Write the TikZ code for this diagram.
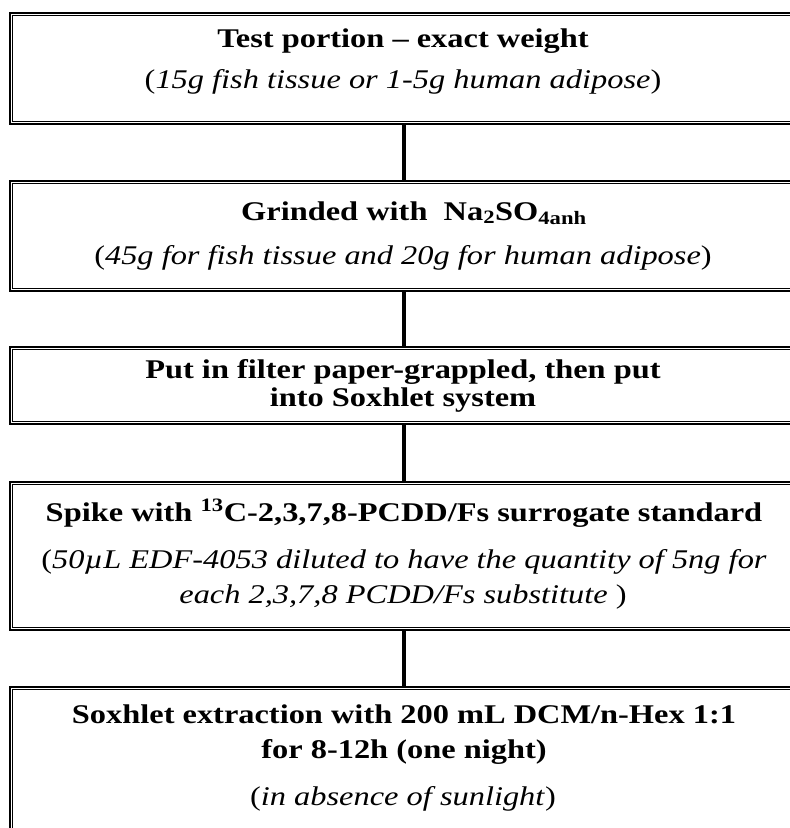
\documentclass[tikz,border=0pt]{standalone}
\usepackage{fontspec}
\setmainfont[FakeStretch=1.2]{Liberation Serif}
\begin{document}
\begin{tikzpicture}[x=1pt,y=-1pt,
  box/.style={draw, line width=2.5pt, rectangle, minimum width=788pt, inner sep=0pt},
  inner/.style={line width=1.1pt},
  conn/.style={line width=4.5pt},
  bt/.style={anchor=base, inner sep=0pt, font=\fontsize{27}{30}\selectfont\bfseries},
  it/.style={anchor=base, inner sep=0pt, font=\fontsize{27}{30}\selectfont}
]
\useasboundingbox (0,0) rectangle (790,828);
\node[box, minimum height=111pt] (b1) at (404,68.5) {};
\node[box, minimum height=110pt] (b2) at (404,236) {};
\node[box, minimum height=77pt]  (b3) at (404,385.5) {};
\node[box, minimum height=148pt] (b4) at (404,556) {};
\node[box, minimum height=170pt] (b5) at (404,772) {};
\foreach \b in {b1,b2,b3,b4,b5}
  \draw[inner] ([shift={(4pt,-4pt)}]\b.north west) rectangle ([shift={(-4pt,4pt)}]\b.south east);
\draw[conn] (b1.south) -- (b2.north);
\draw[conn] (b2.south) -- (b3.north);
\draw[conn] (b3.south) -- (b4.north);
\draw[conn] (b4.south) -- (b5.north);
\node[bt] (t1a) at (403,47) {Test portion – exact weight};
\node[it] (t1b) at (403,88) {(\textit{15g fish tissue or 1-5g human adipose})};
\node[bt] (t2a) at (414,220) {Grinded with\ \ Na\textsubscript{2}SO\textsubscript{4anh}};
\node[it] (t2b) at (403,264) {(\textit{45g for fish tissue and 20g for human adipose})};
\node[bt] (t3a) at (403,378) {Put in filter paper-grappled, then put};
\node[bt] (t3b) at (403,406) {into Soxhlet system};
\node[bt] (t4a) at (404,521) {Spike with \textsuperscript{13}C-2,3,7,8-PCDD/Fs surrogate standard};
\node[it] (t4b) at (404,568) {(\textit{50µL EDF-4053 diluted to have the quantity of 5ng for}};
\node[it] (t4c) at (403,603) {\textit{each 2,3,7,8 PCDD/Fs substitute} )};
\node[bt] (t5a) at (404,723) {Soxhlet extraction with 200 mL DCM/n-Hex 1:1};
\node[bt] (t5b) at (404,758) {for 8-12h (one night)};
\node[it] (t5c) at (403,805) {(\textit{in absence of sunlight})};
\end{tikzpicture}
\end{document}
